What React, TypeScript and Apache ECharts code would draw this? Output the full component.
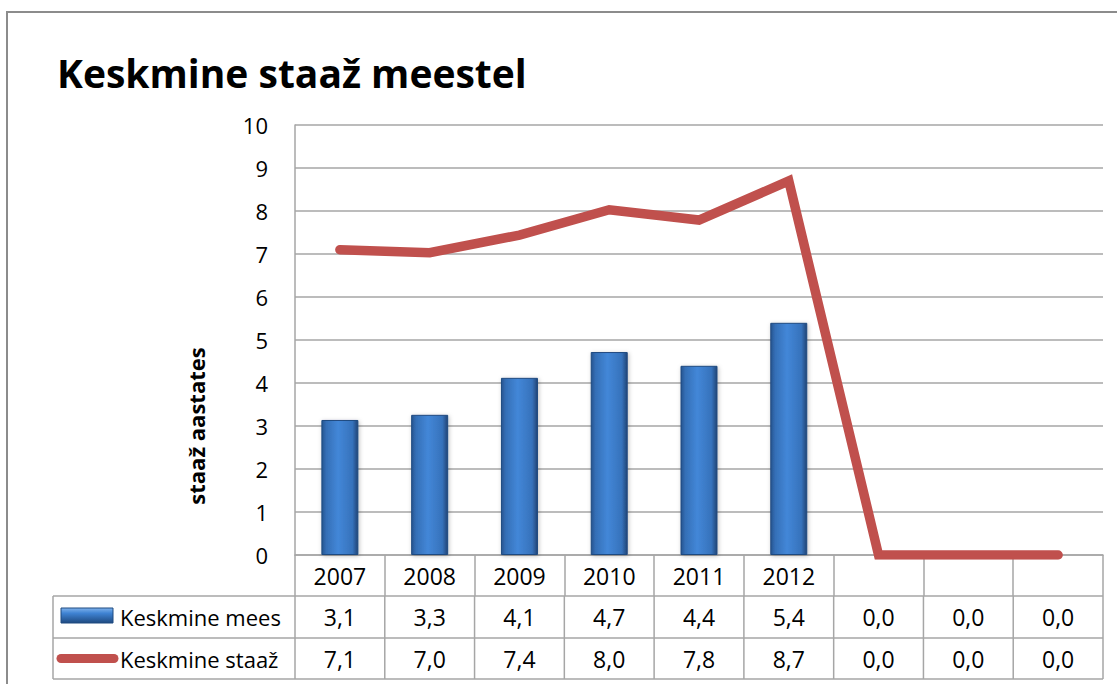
import React, { useEffect, useRef } from "react";
import * as echarts from "echarts";

const titleText = "Keskmine staaž meestel";
const yAxisTitle = "staaž aastates";
const categories = ["2007", "2008", "2009", "2010", "2011", "2012", "", "", ""];
const seriesNames = ["Keskmine mees", "Keskmine staaž"];
const meesValues = [3.14, 3.26, 4.12, 4.72, 4.4, 5.4, 0, 0, 0];
const staazValues = [7.1, 7.03, 7.44, 8.03, 7.79, 8.7, 0, 0, 0];
const yMin = 0;
const yMax = 10;
const yInterval = 1;

const FONT = "'Open Sans', 'Noto Sans', sans-serif";
const GRID_LINE = "#a6a6a6";
const RED = "#c0504d";

const barGradient = () =>
  new echarts.graphic.LinearGradient(0, 0, 1, 0, [
    { offset: 0, color: "#27548f" },
    { offset: 0.12, color: "#346fb6" },
    { offset: 0.45, color: "#4387d8" },
    { offset: 0.85, color: "#3672bb" },
    { offset: 1, color: "#224576" },
  ]);

const fmt = (v: number) => v.toFixed(1).replace(".", ",");

export default function App() {
  const ref = useRef<HTMLDivElement>(null);

  useEffect(() => {
    if (!ref.current) return;
    const chart = echarts.init(ref.current, null, { renderer: "svg" });
    const gridLeft = 295;
    const gridRight = 14;
    const gridTop = 125;
    const gridBottom = 129;

    chart.setOption({
      animation: false,
      textStyle: { fontFamily: FONT },
      grid: { left: gridLeft, right: gridRight, top: gridTop, bottom: gridBottom, containLabel: false },
      xAxis: {
        type: "category",
        data: categories,
        boundaryGap: true,
        axisLine: { show: true, lineStyle: { color: GRID_LINE, width: 1.5 } },
        axisTick: { show: true, interval: 0, length: 41, lineStyle: { color: GRID_LINE, width: 1.5 } },
        axisLabel: { interval: 0, fontSize: 23, color: "#000", margin: 9, fontFamily: FONT },
      },
      yAxis: {
        type: "value",
        min: yMin,
        max: yMax,
        interval: yInterval,
        axisLine: { show: true, lineStyle: { color: GRID_LINE, width: 1.5 } },
        axisTick: { show: false },
        axisLabel: { fontSize: 22, color: "#000", margin: 27, fontFamily: FONT },
        splitLine: { show: true, lineStyle: { color: GRID_LINE, width: 1.5 } },
      },
      series: [
        {
          name: seriesNames[0],
          type: "bar",
          data: meesValues,
          barWidth: 37,
          itemStyle: {
            color: barGradient(),
            borderColor: "#1f4a80",
            borderWidth: 1,
            shadowColor: "rgba(0,0,0,0.25)",
            shadowBlur: 4,
            shadowOffsetX: 1,
            shadowOffsetY: 1,
          },
          z: 2,
        },
        {
          name: seriesNames[1],
          type: "line",
          data: staazValues,
          symbol: "none",
          lineStyle: { color: RED, width: 9.5, cap: "round", join: "miter" },
          z: 3,
        },
      ],
    });

    const centers = categories.map((_, i) => chart.convertToPixel({ xAxisIndex: 0 }, i) as number);
    const step = centers.length > 1 ? centers[1] - centers[0] : 90;
    const plotRight = 1117 - gridRight;
    const tableLeft = 53;
    const rowTop = 596;
    const rowMid = 638;
    const rowBottom = 679;
    const lineStyle = { stroke: GRID_LINE, lineWidth: 1.5 };

    const elements: any[] = [];
    elements.push({
      type: "rect",
      shape: { x: 7, y: 12, width: 1130, height: 700 },
      style: { fill: "none", stroke: "#8c8c8c", lineWidth: 2 },
      silent: true,
    });
    elements.push({
      type: "text",
      x: 57,
      y: 72,
      style: { text: titleText, fontSize: 39, fontWeight: "bold", fontFamily: FONT, fill: "#000", verticalAlign: "middle" },
    });
    elements.push({
      type: "text",
      x: 196,
      y: 426,
      rotation: Math.PI / 2,
      style: { text: yAxisTitle, fontSize: 22, fontWeight: "bold", fontFamily: FONT, fill: "#000", align: "center", verticalAlign: "middle" },
    });
    [rowTop, rowMid, rowBottom].forEach((y) => {
      elements.push({ type: "line", shape: { x1: tableLeft, y1: y, x2: plotRight, y2: y }, style: lineStyle });
    });
    const vx = [tableLeft, ...centers.map((c) => c - step / 2), plotRight];
    vx.forEach((x) => {
      elements.push({ type: "line", shape: { x1: x, y1: rowTop, x2: x, y2: rowBottom }, style: lineStyle });
    });
    const rows = [meesValues, staazValues];
    const rowY = [(rowTop + rowMid) / 2, (rowMid + rowBottom) / 2];
    rows.forEach((vals, r) => {
      vals.forEach((v, i) => {
        elements.push({
          type: "text",
          x: centers[i],
          y: rowY[r],
          style: { text: fmt(v), fontSize: 23, fontFamily: FONT, fill: "#000", align: "center", verticalAlign: "middle" },
        });
      });
    });
    elements.push({
      type: "rect",
      shape: { x: 61, y: 608, width: 52, height: 15 },
      style: {
        fill: new echarts.graphic.LinearGradient(0, 0, 0, 1, [
          { offset: 0, color: "#7fb2ec" },
          { offset: 0.35, color: "#3f83d3" },
          { offset: 1, color: "#1f4a80" },
        ]),
        stroke: "#1f4a80",
        lineWidth: 1,
      },
    });
    elements.push({
      type: "line",
      shape: { x1: 61, y1: rowY[1], x2: 114, y2: rowY[1] },
      style: { stroke: RED, lineWidth: 9, lineCap: "round" },
    });
    seriesNames.forEach((n, r) => {
      elements.push({
        type: "text",
        x: 120,
        y: rowY[r],
        style: { text: n, fontSize: 22, fontFamily: FONT, fill: "#000", align: "left", verticalAlign: "middle" },
      });
    });

    chart.setOption({ graphic: { elements } });

    return () => chart.dispose();
  }, []);

  return (
    <div
      ref={ref}
      style={{ position: "absolute", left: 0, top: 0, width: 1117, height: 684, background: "#fff" }}
    />
  );
}
